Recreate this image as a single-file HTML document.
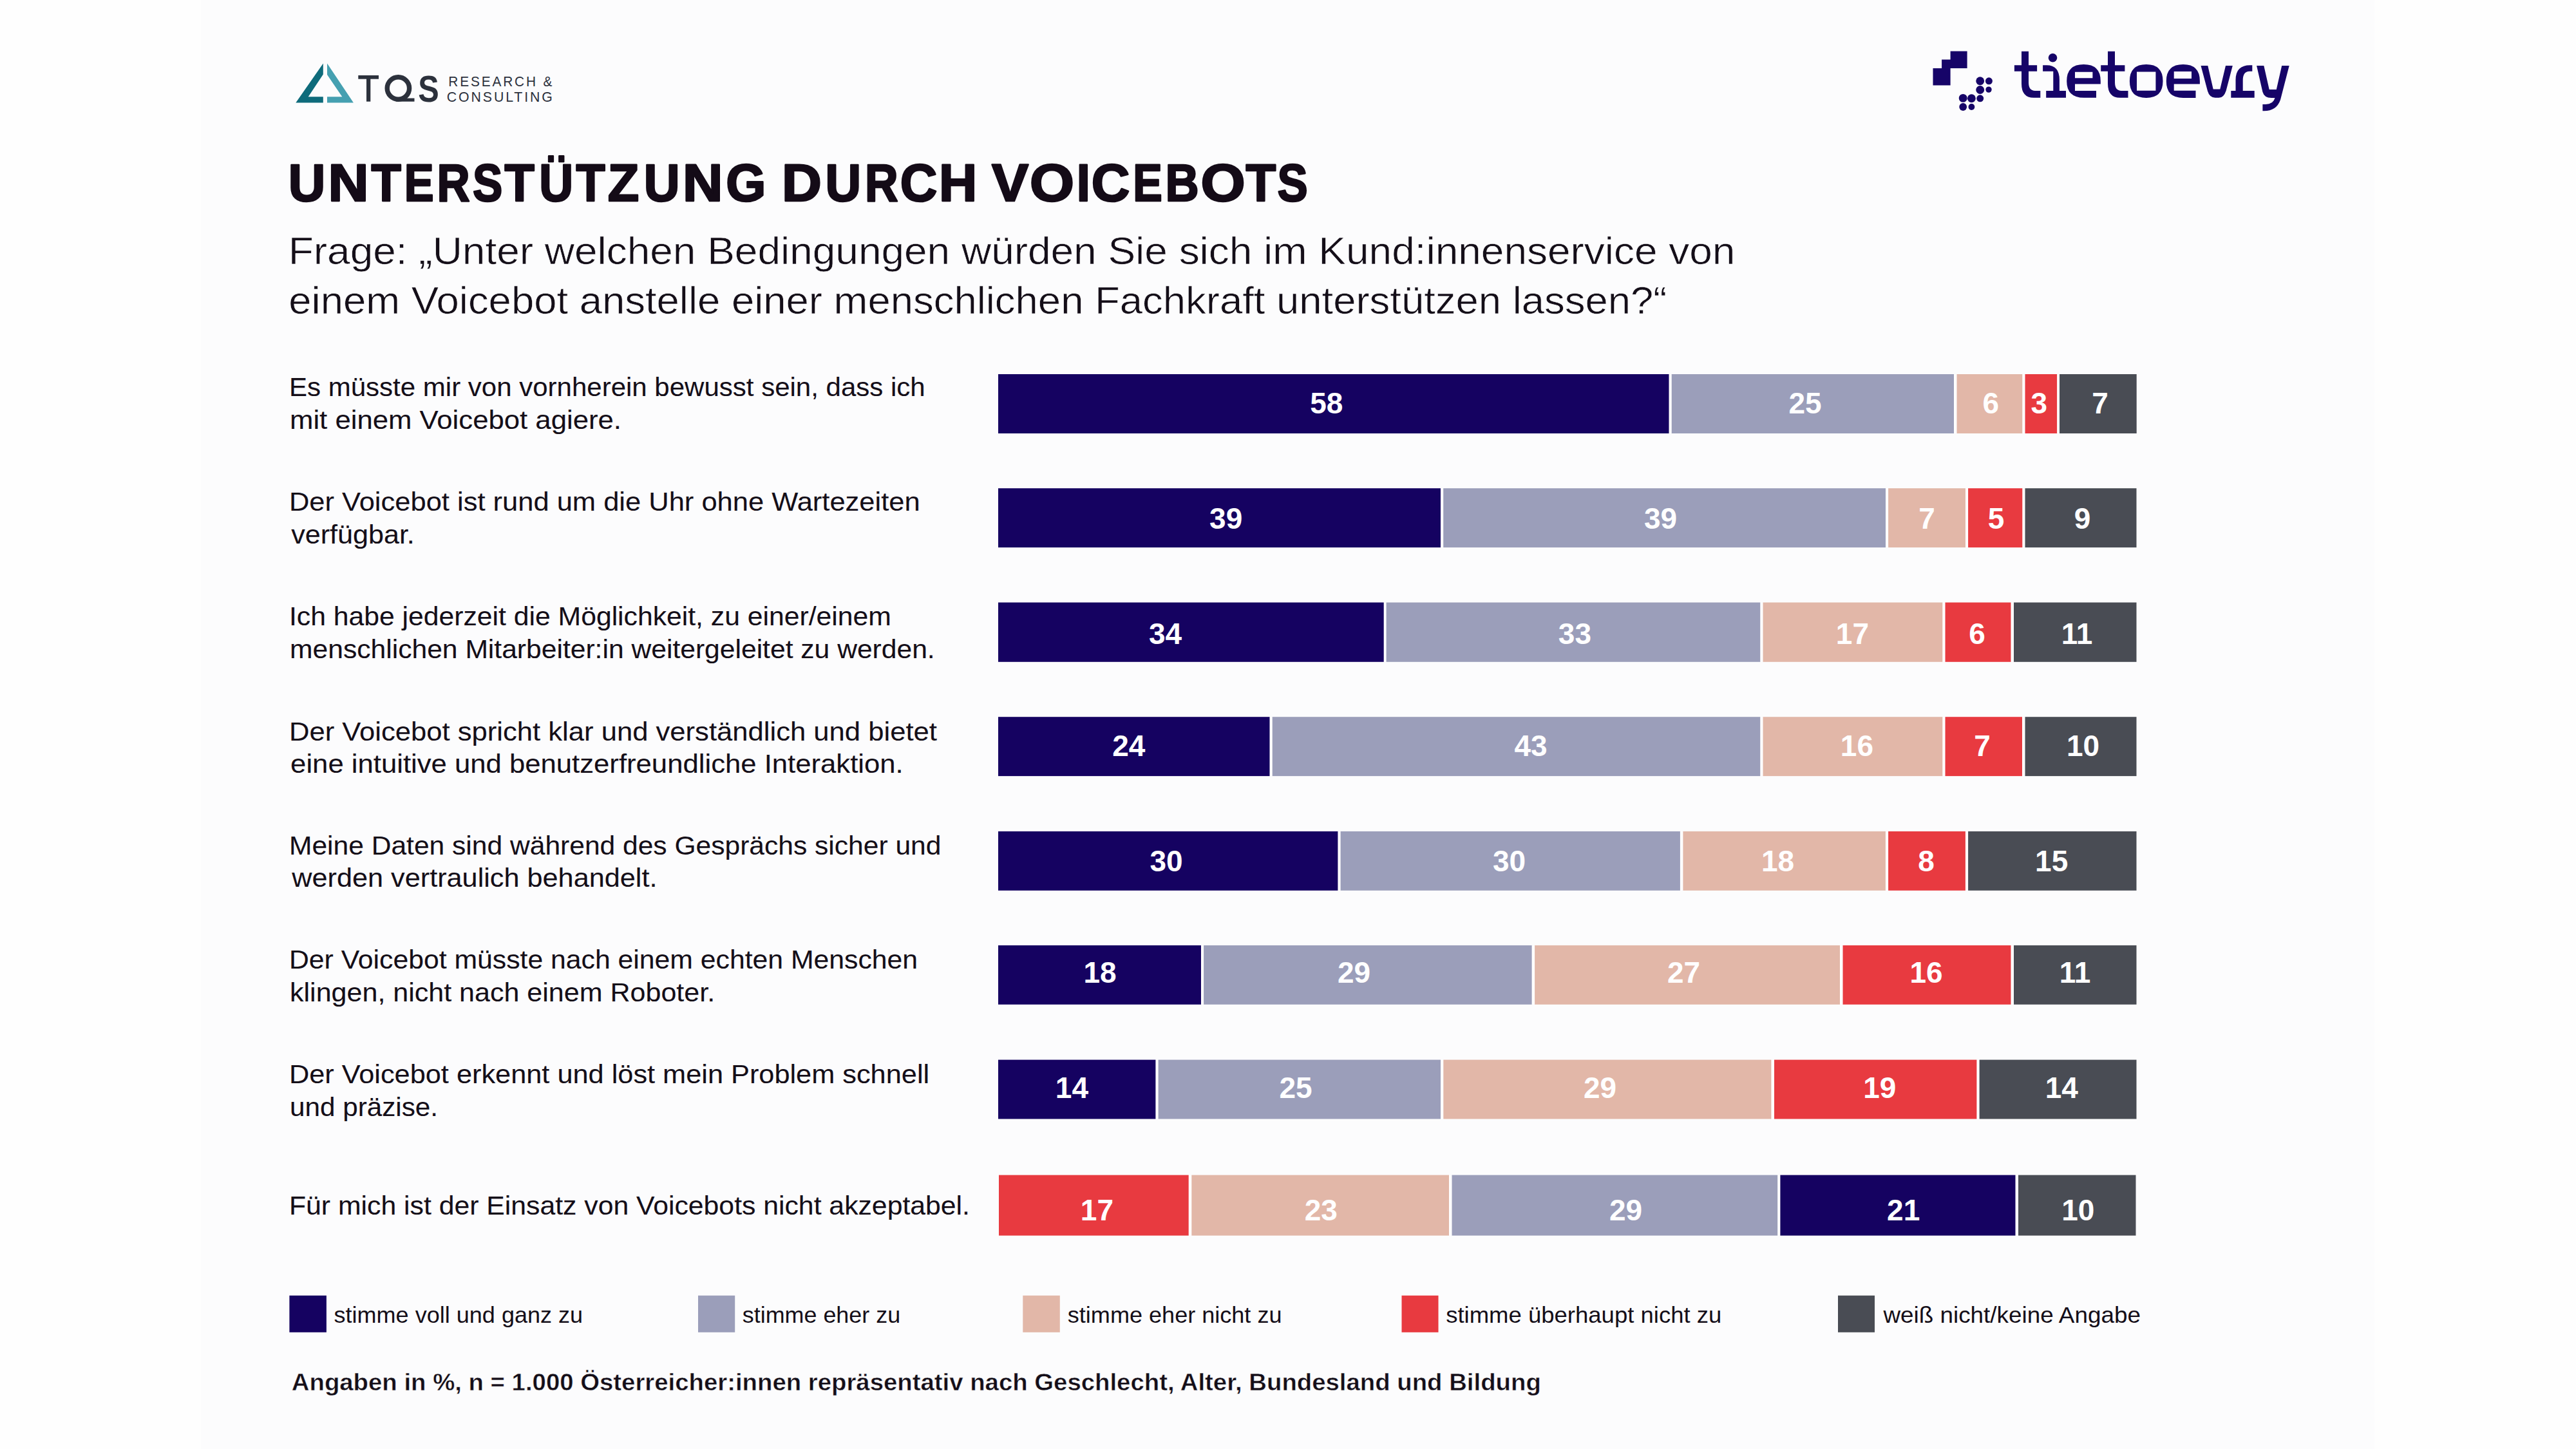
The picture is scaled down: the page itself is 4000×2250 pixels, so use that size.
<!DOCTYPE html>
<html><head><meta charset="utf-8"><style>
html,body{margin:0;padding:0;width:4000px;height:2250px;overflow:hidden;background:#fefefe;}
svg{display:block;font-family:"Liberation Sans", sans-serif;}
</style></head><body>
<svg width="4000" height="2250" viewBox="0 0 4000 2250" font-family="'Liberation Sans', sans-serif">
<rect x="0" y="0" width="4000" height="2250" fill="#fefefe"/>
<rect x="312" y="0" width="3375" height="2250" fill="#fcfcfd"/>

<polygon points="459.3,159.6 501.8,98.5 501.8,115.4 478.7,150.3 501.8,150.3 501.8,159.6" fill="#0e6b7b"/>
<polygon points="508,98.5 548.9,159.6 508,159.6 508,150.3 531.3,150.3 508,115.9" fill="#45a0b1"/>
<g fill="#2c313c">
<rect x="556.3" y="117" width="31.7" height="5.7"/>
<rect x="569" y="117" width="6.3" height="40.7"/>
<circle cx="618.4" cy="137" r="17.2" fill="none" stroke="#2c313c" stroke-width="7.4"/>
<rect x="615" y="152.5" width="28.5" height="5.2"/>
<text x="0" y="0" font-size="58" font-weight="bold" transform="translate(649.2,157.7) scale(0.84,1)">S</text>
<text x="696.3" y="133.8" font-size="22" textLength="164" lengthAdjust="spacingAndGlyphs" letter-spacing="3">RESEARCH &amp;</text>
<text x="693.8" y="158.1" font-size="22" textLength="167" lengthAdjust="spacingAndGlyphs" letter-spacing="3">CONSULTING</text>
</g>

<polygon points="3028.6,79.5 3054.6,79.5 3054.6,105.9 3028.6,105.9 3028.6,132.6 3001.5,132.6 3001.5,105.9 3015.1,105.9 3015.1,92.4 3028.6,92.4" fill="#160468"/><circle cx="3074.7" cy="125.8" r="6.45" fill="#160468"/><circle cx="3088.4" cy="125.8" r="5.5" fill="#160468"/><circle cx="3074.7" cy="139.5" r="6.45" fill="#160468"/><circle cx="3088" cy="139.1" r="4.7" fill="#160468"/><circle cx="3048.2" cy="152.4" r="6.45" fill="#160468"/><circle cx="3061.4" cy="152.8" r="6.45" fill="#160468"/><circle cx="3074.7" cy="152.8" r="5.5" fill="#160468"/><circle cx="3048.2" cy="166" r="5.9" fill="#160468"/><circle cx="3061.4" cy="166" r="4.9" fill="#160468"/>
<g fill="#160468">
<path d="M3139,79.8 H3150 V101.2 H3163.1 V110.8 H3150 V128 Q3150,140.9 3160,140.9 H3168.3 V151.8 H3158 Q3139,151.8 3139,130 V110.8 H3127.9 V101.2 H3139 Z"/>
<circle cx="3187.5" cy="89.8" r="6.8"/>
<path d="M3172.1,101.2 H3178 Q3197.9,101.2 3197.9,124 V140.9 H3208 V151.8 H3177.2 V140.9 H3188.3 V110.8 H3172.1 Z"/>
<path fill-rule="evenodd" d="M3255,151.8 H3236 Q3209.2,151.8 3209.2,126 Q3209.2,100.1 3235.5,100.1 Q3261.8,100.1 3261.8,126 V130.6 H3222 V140.9 H3255 Z M3222,111.8 V121.2 H3249.4 V111.8 Z"/>
<path d="M3273,79.8 H3284 V101.2 H3299.4 V110.8 H3284 V128 Q3284,140.9 3294,140.9 H3304.5 V151.8 H3292 Q3273,151.8 3273,130 V110.8 H3262.2 V101.2 H3273 Z"/>
<path fill-rule="evenodd" d="M3332.7,100.1 Q3358.5,100.1 3358.5,126 Q3358.5,152 3332.7,152 Q3306.9,152 3306.9,126 Q3306.9,100.1 3332.7,100.1 Z M3318,111.6 V140.7 H3347.4 V111.6 Z"/>
<path fill-rule="evenodd" d="M3409.5,152 H3390 Q3363.8,152 3363.8,126 Q3363.8,100.1 3390,100.1 Q3415.9,100.1 3415.9,126 V130.6 H3375.7 V140.7 H3409.5 Z M3375.7,110.9 V122 H3403 V110.9 Z"/>
<path d="M3417.5,102.1 H3428.3 L3436.7,138.4 H3447.3 L3456,102.1 H3466.8 L3456.6,140.9 Q3453,151.8 3445.4,151.8 H3439.8 Q3431,151.8 3428,141.6 Z"/>
<path d="M3464.3,140.9 H3471.5 V124 Q3471.5,101.2 3494,101.2 H3497.3 V110.8 H3493 Q3482.7,110.8 3482.7,125 V140.9 H3500.7 V151.8 H3464.3 Z"/>
<path d="M3504.1,102.1 H3515.3 L3523.7,139.1 H3534.8 L3543.2,102.1 H3554.7 L3541,155 Q3535,172.3 3515.6,172.3 H3513.4 V162 H3518 Q3530,162 3532.5,152.1 H3527 Q3516,152.1 3513.4,142.8 Z"/>
</g>
<text x="447.76" y="409.90" font-size="59" fill="#140e18" stroke="#fcfcfd" stroke-width="0.6" textLength="2246.67" lengthAdjust="spacingAndGlyphs">Frage: „Unter welchen Bedingungen würden Sie sich im Kund:innenservice von</text>
<text x="448.35" y="486.80" font-size="59" fill="#140e18" stroke="#fcfcfd" stroke-width="0.6" textLength="2140.12" lengthAdjust="spacingAndGlyphs">einem Voicebot anstelle einer menschlichen Fachkraft unterstützen lassen?“</text>
<text x="449.05" y="614.80" font-size="40" fill="#140e18" stroke="#140e18" stroke-width="0.1" textLength="987.61" lengthAdjust="spacingAndGlyphs">Es müsste mir von vornherein bewusst sein, dass ich</text>
<text x="450.01" y="666.10" font-size="40" fill="#140e18" stroke="#140e18" stroke-width="0.1" textLength="514.99" lengthAdjust="spacingAndGlyphs">mit einem Voicebot agiere.</text>
<text x="448.94" y="793.10" font-size="40" fill="#140e18" stroke="#140e18" stroke-width="0.1" textLength="979.70" lengthAdjust="spacingAndGlyphs">Der Voicebot ist rund um die Uhr ohne Wartezeiten</text>
<text x="452.20" y="844.10" font-size="40" fill="#140e18" stroke="#140e18" stroke-width="0.1" textLength="191.65" lengthAdjust="spacingAndGlyphs">verfügbar.</text>
<text x="449.00" y="971.20" font-size="40" fill="#140e18" stroke="#140e18" stroke-width="0.1" textLength="934.78" lengthAdjust="spacingAndGlyphs">Ich habe jederzeit die Möglichkeit, zu einer/einem</text>
<text x="450.07" y="1021.60" font-size="40" fill="#140e18" stroke="#140e18" stroke-width="0.1" textLength="1001.65" lengthAdjust="spacingAndGlyphs">menschlichen Mitarbeiter:in weitergeleitet zu werden.</text>
<text x="448.93" y="1149.50" font-size="40" fill="#140e18" stroke="#140e18" stroke-width="0.1" textLength="1005.99" lengthAdjust="spacingAndGlyphs">Der Voicebot spricht klar und verständlich und bietet</text>
<text x="451.11" y="1199.50" font-size="40" fill="#140e18" stroke="#140e18" stroke-width="0.1" textLength="951.59" lengthAdjust="spacingAndGlyphs">eine intuitive und benutzerfreundliche Interaktion.</text>
<text x="449.01" y="1326.50" font-size="40" fill="#140e18" stroke="#140e18" stroke-width="0.1" textLength="1012.38" lengthAdjust="spacingAndGlyphs">Meine Daten sind während des Gesprächs sicher und</text>
<text x="453.28" y="1376.50" font-size="40" fill="#140e18" stroke="#140e18" stroke-width="0.1" textLength="567.18" lengthAdjust="spacingAndGlyphs">werden vertraulich behandelt.</text>
<text x="449.00" y="1504.40" font-size="40" fill="#140e18" stroke="#140e18" stroke-width="0.1" textLength="976.10" lengthAdjust="spacingAndGlyphs">Der Voicebot müsste nach einem echten Menschen</text>
<text x="450.05" y="1554.70" font-size="40" fill="#140e18" stroke="#140e18" stroke-width="0.1" textLength="660.10" lengthAdjust="spacingAndGlyphs">klingen, nicht nach einem Roboter.</text>
<text x="448.95" y="1681.80" font-size="40" fill="#140e18" stroke="#140e18" stroke-width="0.1" textLength="994.19" lengthAdjust="spacingAndGlyphs">Der Voicebot erkennt und löst mein Problem schnell</text>
<text x="450.09" y="1732.60" font-size="40" fill="#140e18" stroke="#140e18" stroke-width="0.1" textLength="230.00" lengthAdjust="spacingAndGlyphs">und präzise.</text>
<text x="449.00" y="1886.10" font-size="40" fill="#140e18" stroke="#140e18" stroke-width="0.1" textLength="1056.93" lengthAdjust="spacingAndGlyphs">Für mich ist der Einsatz von Voicebots nicht akzeptabel.</text>
<text x="518.50" y="2053.50" font-size="35" fill="#140e18" textLength="386.61" lengthAdjust="spacingAndGlyphs">stimme voll und ganz zu</text>
<text x="1152.80" y="2053.50" font-size="35" fill="#140e18" textLength="245.30" lengthAdjust="spacingAndGlyphs">stimme eher zu</text>
<text x="1657.80" y="2053.50" font-size="35" fill="#140e18" textLength="332.71" lengthAdjust="spacingAndGlyphs">stimme eher nicht zu</text>
<text x="2245.20" y="2053.50" font-size="35" fill="#140e18" textLength="428.13" lengthAdjust="spacingAndGlyphs">stimme überhaupt nicht zu</text>
<text x="2924.45" y="2053.50" font-size="35" fill="#140e18" textLength="399.49" lengthAdjust="spacingAndGlyphs">weiß nicht/keine Angabe</text>
<text x="452.80" y="2158.90" font-size="36" font-weight="bold" fill="#140e18" stroke="#fcfcfd" stroke-width="0.45" textLength="1940.02" lengthAdjust="spacingAndGlyphs">Angaben in %, n = 1.000 Österreicher:innen repräsentativ nach Geschlecht, Alter, Bundesland und Bildung</text>
<g font-size="81" font-weight="bold" fill="#140b17" stroke="#140b17" stroke-width="2.6" stroke-linejoin="round"><text x="447.66" y="311.90" textLength="57.56" lengthAdjust="spacingAndGlyphs">U</text><text x="509.41" y="311.90" textLength="63.03" lengthAdjust="spacingAndGlyphs">N</text><text x="576.60" y="311.90" textLength="46.35" lengthAdjust="spacingAndGlyphs">T</text><text x="627.75" y="311.90" textLength="45.92" lengthAdjust="spacingAndGlyphs">E</text><text x="678.52" y="311.90" textLength="51.18" lengthAdjust="spacingAndGlyphs">R</text><text x="733.99" y="311.90" textLength="46.31" lengthAdjust="spacingAndGlyphs">S</text><text x="783.50" y="311.90" textLength="46.35" lengthAdjust="spacingAndGlyphs">T</text><text x="837.18" y="311.90" textLength="52.88" lengthAdjust="spacingAndGlyphs">Ü</text><text x="894.60" y="311.90" textLength="45.14" lengthAdjust="spacingAndGlyphs">T</text><text x="943.64" y="311.90" textLength="48.51" lengthAdjust="spacingAndGlyphs">Z</text><text x="999.68" y="311.90" textLength="55.80" lengthAdjust="spacingAndGlyphs">U</text><text x="1059.96" y="311.90" textLength="62.44" lengthAdjust="spacingAndGlyphs">N</text><text x="1127.24" y="311.90" textLength="62.09" lengthAdjust="spacingAndGlyphs">G</text><text x="1214.02" y="311.90" textLength="61.82" lengthAdjust="spacingAndGlyphs">D</text><text x="1281.50" y="311.90" textLength="55.57" lengthAdjust="spacingAndGlyphs">U</text><text x="1342.99" y="311.90" textLength="51.63" lengthAdjust="spacingAndGlyphs">R</text><text x="1397.75" y="311.90" textLength="57.52" lengthAdjust="spacingAndGlyphs">C</text><text x="1458.04" y="311.90" textLength="59.21" lengthAdjust="spacingAndGlyphs">H</text><text x="1540.00" y="311.90" textLength="57.13" lengthAdjust="spacingAndGlyphs">V</text><text x="1599.02" y="311.90" textLength="68.97" lengthAdjust="spacingAndGlyphs">O</text><text x="1671.71" y="311.90" textLength="21.12" lengthAdjust="spacingAndGlyphs">I</text><text x="1694.84" y="311.90" textLength="59.58" lengthAdjust="spacingAndGlyphs">C</text><text x="1759.18" y="311.90" textLength="45.57" lengthAdjust="spacingAndGlyphs">E</text><text x="1809.54" y="311.90" textLength="52.18" lengthAdjust="spacingAndGlyphs">B</text><text x="1864.41" y="311.90" textLength="69.08" lengthAdjust="spacingAndGlyphs">O</text><text x="1934.60" y="311.90" textLength="46.75" lengthAdjust="spacingAndGlyphs">T</text><text x="1983.55" y="311.90" textLength="47.19" lengthAdjust="spacingAndGlyphs">S</text></g>
<rect x="1550" y="582.0" width="1767.7" height="90.0" fill="#ffffff"/>
<rect x="1550" y="581.0" width="1041.5" height="92.0" fill="#150261"/>
<rect x="2595.7" y="581.0" width="438.3" height="92.0" fill="#9b9eba"/>
<rect x="3038.5" y="581.0" width="101.8" height="92.0" fill="#e2b7a8"/>
<rect x="3144.5" y="581.0" width="49.6" height="92.0" fill="#e83a40"/>
<rect x="3198" y="581.0" width="119.7" height="92.0" fill="#494c54"/>
<text x="2059.8" y="642.3" font-size="46" font-weight="bold" fill="#fff" text-anchor="middle">58</text>
<text x="2803" y="642.3" font-size="46" font-weight="bold" fill="#fff" text-anchor="middle">25</text>
<text x="3091.3" y="642.3" font-size="46" font-weight="bold" fill="#fff" text-anchor="middle">6</text>
<text x="3166.4" y="642.3" font-size="46" font-weight="bold" fill="#fff" text-anchor="middle">3</text>
<text x="3261" y="642.3" font-size="46" font-weight="bold" fill="#fff" text-anchor="middle">7</text>
<rect x="1550" y="759.2" width="1767.5" height="89.9" fill="#ffffff"/>
<rect x="1550" y="758.2" width="687.0" height="91.9" fill="#150261"/>
<rect x="2241.2" y="758.2" width="686.8" height="91.9" fill="#9b9eba"/>
<rect x="2932.1" y="758.2" width="119.9" height="91.9" fill="#e2b7a8"/>
<rect x="3056.1" y="758.2" width="84.2" height="91.9" fill="#e83a40"/>
<rect x="3144.5" y="758.2" width="173.0" height="91.9" fill="#494c54"/>
<text x="1903.7" y="821.0" font-size="46" font-weight="bold" fill="#fff" text-anchor="middle">39</text>
<text x="2578.5" y="821.0" font-size="46" font-weight="bold" fill="#fff" text-anchor="middle">39</text>
<text x="2992" y="821.0" font-size="46" font-weight="bold" fill="#fff" text-anchor="middle">7</text>
<text x="3099.6" y="821.0" font-size="46" font-weight="bold" fill="#fff" text-anchor="middle">5</text>
<text x="3233.6" y="821.0" font-size="46" font-weight="bold" fill="#fff" text-anchor="middle">9</text>
<rect x="1550" y="936.5" width="1767.5" height="90.3" fill="#ffffff"/>
<rect x="1550" y="935.5" width="598.7" height="92.3" fill="#150261"/>
<rect x="2152.6" y="935.5" width="580.7" height="92.3" fill="#9b9eba"/>
<rect x="2737.5" y="935.5" width="278.8" height="92.3" fill="#e2b7a8"/>
<rect x="3020.5" y="935.5" width="102.0" height="92.3" fill="#e83a40"/>
<rect x="3127" y="935.5" width="190.5" height="92.3" fill="#494c54"/>
<text x="1809.5" y="1000.2" font-size="46" font-weight="bold" fill="#fff" text-anchor="middle">34</text>
<text x="2445.4" y="1000.2" font-size="46" font-weight="bold" fill="#fff" text-anchor="middle">33</text>
<text x="2876.4" y="1000.2" font-size="46" font-weight="bold" fill="#fff" text-anchor="middle">17</text>
<text x="3070" y="1000.2" font-size="46" font-weight="bold" fill="#fff" text-anchor="middle">6</text>
<text x="3225" y="1000.2" font-size="46" font-weight="bold" fill="#fff" text-anchor="middle">11</text>
<rect x="1550" y="1114.2" width="1767.5" height="89.9" fill="#ffffff"/>
<rect x="1550" y="1113.2" width="421.5" height="91.9" fill="#150261"/>
<rect x="1975.7" y="1113.2" width="757.6" height="91.9" fill="#9b9eba"/>
<rect x="2737.5" y="1113.2" width="278.8" height="91.9" fill="#e2b7a8"/>
<rect x="3020.5" y="1113.2" width="119.5" height="91.9" fill="#e83a40"/>
<rect x="3144.5" y="1113.2" width="173.0" height="91.9" fill="#494c54"/>
<text x="1752.8" y="1173.7" font-size="46" font-weight="bold" fill="#fff" text-anchor="middle">24</text>
<text x="2377" y="1173.7" font-size="46" font-weight="bold" fill="#fff" text-anchor="middle">43</text>
<text x="2883.4" y="1173.7" font-size="46" font-weight="bold" fill="#fff" text-anchor="middle">16</text>
<text x="3078" y="1173.7" font-size="46" font-weight="bold" fill="#fff" text-anchor="middle">7</text>
<text x="3234.5" y="1173.7" font-size="46" font-weight="bold" fill="#fff" text-anchor="middle">10</text>
<rect x="1550" y="1291.9" width="1767.5" height="89.9" fill="#ffffff"/>
<rect x="1550" y="1290.9" width="527.4" height="91.9" fill="#150261"/>
<rect x="2081.6" y="1290.9" width="527.3" height="91.9" fill="#9b9eba"/>
<rect x="2613.4" y="1290.9" width="314.5" height="91.9" fill="#e2b7a8"/>
<rect x="2932.1" y="1290.9" width="119.8" height="91.9" fill="#e83a40"/>
<rect x="3056.1" y="1290.9" width="261.4" height="91.9" fill="#494c54"/>
<text x="1811" y="1353.0" font-size="46" font-weight="bold" fill="#fff" text-anchor="middle">30</text>
<text x="2343.5" y="1353.0" font-size="46" font-weight="bold" fill="#fff" text-anchor="middle">30</text>
<text x="2760.5" y="1353.0" font-size="46" font-weight="bold" fill="#fff" text-anchor="middle">18</text>
<text x="2991" y="1353.0" font-size="46" font-weight="bold" fill="#fff" text-anchor="middle">8</text>
<text x="3185.7" y="1353.0" font-size="46" font-weight="bold" fill="#fff" text-anchor="middle">15</text>
<rect x="1550" y="1468.9" width="1767.5" height="89.9" fill="#ffffff"/>
<rect x="1550" y="1467.9" width="315.0" height="91.9" fill="#150261"/>
<rect x="1869.1" y="1467.9" width="509.5" height="91.9" fill="#9b9eba"/>
<rect x="2383.1" y="1467.9" width="473.9" height="91.9" fill="#e2b7a8"/>
<rect x="2861.5" y="1467.9" width="261.0" height="91.9" fill="#e83a40"/>
<rect x="3127" y="1467.9" width="190.5" height="91.9" fill="#494c54"/>
<text x="1708" y="1525.9" font-size="46" font-weight="bold" fill="#fff" text-anchor="middle">18</text>
<text x="2102.5" y="1525.9" font-size="46" font-weight="bold" fill="#fff" text-anchor="middle">29</text>
<text x="2614.6" y="1525.9" font-size="46" font-weight="bold" fill="#fff" text-anchor="middle">27</text>
<text x="2991" y="1525.9" font-size="46" font-weight="bold" fill="#fff" text-anchor="middle">16</text>
<text x="3222" y="1525.9" font-size="46" font-weight="bold" fill="#fff" text-anchor="middle">11</text>
<rect x="1550" y="1646.6" width="1767.5" height="89.9" fill="#ffffff"/>
<rect x="1550" y="1645.6" width="244.4" height="91.9" fill="#150261"/>
<rect x="1798.6" y="1645.6" width="438.4" height="91.9" fill="#9b9eba"/>
<rect x="2241.3" y="1645.6" width="509.1" height="91.9" fill="#e2b7a8"/>
<rect x="2755" y="1645.6" width="314.4" height="91.9" fill="#e83a40"/>
<rect x="3073.6" y="1645.6" width="243.9" height="91.9" fill="#494c54"/>
<text x="1664.4" y="1705.4" font-size="46" font-weight="bold" fill="#fff" text-anchor="middle">14</text>
<text x="2012" y="1705.4" font-size="46" font-weight="bold" fill="#fff" text-anchor="middle">25</text>
<text x="2484.6" y="1705.4" font-size="46" font-weight="bold" fill="#fff" text-anchor="middle">29</text>
<text x="2918.8" y="1705.4" font-size="46" font-weight="bold" fill="#fff" text-anchor="middle">19</text>
<text x="3201.3" y="1705.4" font-size="46" font-weight="bold" fill="#fff" text-anchor="middle">14</text>
<rect x="1551" y="1825.6" width="1765.5" height="92.0" fill="#ffffff"/>
<rect x="1551" y="1824.6" width="294.7" height="94.0" fill="#e83a40"/>
<rect x="1850.3" y="1824.6" width="399.7" height="94.0" fill="#e2b7a8"/>
<rect x="2254.5" y="1824.6" width="505.7" height="94.0" fill="#9b9eba"/>
<rect x="2764.4" y="1824.6" width="365.1" height="94.0" fill="#150261"/>
<rect x="3134" y="1824.6" width="182.5" height="94.0" fill="#494c54"/>
<text x="1703.4" y="1894.8" font-size="46" font-weight="bold" fill="#fff" text-anchor="middle">17</text>
<text x="2051.3" y="1894.8" font-size="46" font-weight="bold" fill="#fff" text-anchor="middle">23</text>
<text x="2524.5" y="1894.8" font-size="46" font-weight="bold" fill="#fff" text-anchor="middle">29</text>
<text x="2955.7" y="1894.8" font-size="46" font-weight="bold" fill="#fff" text-anchor="middle">21</text>
<text x="3226.8" y="1894.8" font-size="46" font-weight="bold" fill="#fff" text-anchor="middle">10</text>
<rect x="449.4" y="2011.7" width="57.5" height="57.1" fill="#150261"/>
<rect x="1084" y="2011.7" width="57.2" height="57.1" fill="#9b9eba"/>
<rect x="1588.3" y="2011.7" width="57.5" height="57.1" fill="#e2b7a8"/>
<rect x="2176.5" y="2011.7" width="57.0" height="57.1" fill="#e83a40"/>
<rect x="2854" y="2011.7" width="57.0" height="57.1" fill="#494c54"/>
</svg>
</body></html>
